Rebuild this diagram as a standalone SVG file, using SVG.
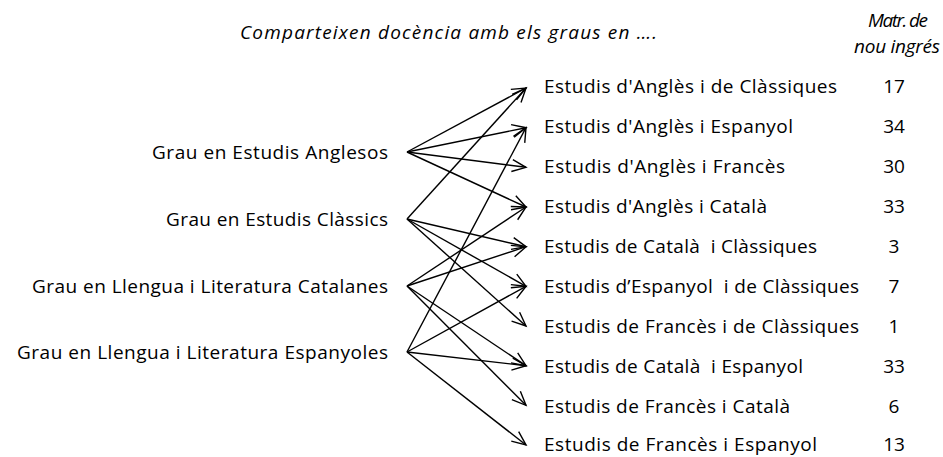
<svg xmlns="http://www.w3.org/2000/svg" width="943" height="457" viewBox="0 0 943 457">
<style>
text{font-family:"Open Sans","Noto Sans","Liberation Sans",sans-serif;font-size:19px;fill:#000}
.hd{font-style:italic}
.src{text-anchor:end}
.num{text-anchor:middle}
.mid{text-anchor:middle}
#connectors line{stroke:#000;stroke-width:1.4;fill:none;marker-end:url(#arr)}
</style>
<defs>
<marker id="arr" markerUnits="userSpaceOnUse" orient="auto" refX="0" refY="0" markerWidth="20" markerHeight="20" overflow="visible">
<path d="M-14,-6 L0,0 L-14,6" fill="none" stroke="#000" stroke-width="1.4"/>
</marker>
</defs>
<rect width="943" height="457" fill="#fff"/>
<g id="header">
<text class="hd" x="240" y="39" textLength="417">Comparteixen docència amb els graus en ….</text>
<text class="hd mid" x="898" y="27" textLength="60">Matr. de</text>
<text class="hd mid" x="897" y="53" textLength="86">nou ingrés</text>
</g>
<g id="connectors">
<line x1="407" y1="152" x2="526" y2="88"/>
<line x1="407" y1="152" x2="526" y2="127.7"/>
<line x1="407" y1="152" x2="526" y2="167.3"/>
<line x1="407" y1="152" x2="526" y2="207"/>
<line x1="407" y1="219" x2="526" y2="88"/>
<line x1="407" y1="219" x2="526" y2="246.7"/>
<line x1="407" y1="219" x2="526" y2="286.3"/>
<line x1="407" y1="219" x2="526" y2="326"/>
<line x1="407" y1="286" x2="526" y2="207"/>
<line x1="407" y1="286" x2="526" y2="246.7"/>
<line x1="407" y1="286" x2="526" y2="365.7"/>
<line x1="407" y1="286" x2="526" y2="405.3"/>
<line x1="407" y1="352" x2="526" y2="127.7"/>
<line x1="407" y1="352" x2="526" y2="286.3"/>
<line x1="407" y1="352" x2="526" y2="365.7"/>
<line x1="407" y1="352" x2="526" y2="445"/>
</g>
<g id="src-anglesos"><text class="src" x="388" y="159" textLength="236">Grau en Estudis Anglesos</text></g>
<g id="src-classics"><text class="src" x="388" y="226" textLength="222">Grau en Estudis Clàssics</text></g>
<g id="src-catalanes"><text class="src" x="388" y="293" textLength="356">Grau en Llengua i Literatura Catalanes</text></g>
<g id="src-espanyoles"><text class="src" x="388" y="359" textLength="371">Grau en Llengua i Literatura Espanyoles</text></g>
<g id="t1"><text x="544" y="93" textLength="293">Estudis d'Anglès i de Clàssiques</text><text class="num" x="894" y="93">17</text></g>
<g id="t2"><text x="544" y="133" textLength="249">Estudis d'Anglès i Espanyol</text><text class="num" x="894" y="133">34</text></g>
<g id="t3"><text x="544" y="173" textLength="241">Estudis d'Anglès i Francès</text><text class="num" x="894" y="173">30</text></g>
<g id="t4"><text x="544" y="213" textLength="223">Estudis d'Anglès i Català</text><text class="num" x="894" y="213">33</text></g>
<g id="t5"><text x="544" y="253" textLength="273" xml:space="preserve">Estudis de Català  i Clàssiques</text><text class="num" x="894" y="253">3</text></g>
<g id="t6"><text x="544" y="293" textLength="315" xml:space="preserve">Estudis d’Espanyol  i de Clàssiques</text><text class="num" x="894" y="293">7</text></g>
<g id="t7"><text x="544" y="333" textLength="315">Estudis de Francès i de Clàssiques</text><text class="num" x="894" y="333">1</text></g>
<g id="t8"><text x="544" y="373" textLength="259" xml:space="preserve">Estudis de Català  i Espanyol</text><text class="num" x="894" y="373">33</text></g>
<g id="t9"><text x="544" y="413" textLength="246">Estudis de Francès i Català</text><text class="num" x="894" y="413">6</text></g>
<g id="t10"><text x="544" y="451" textLength="273">Estudis de Francès i Espanyol</text><text class="num" x="894" y="451">13</text></g>
</svg>
